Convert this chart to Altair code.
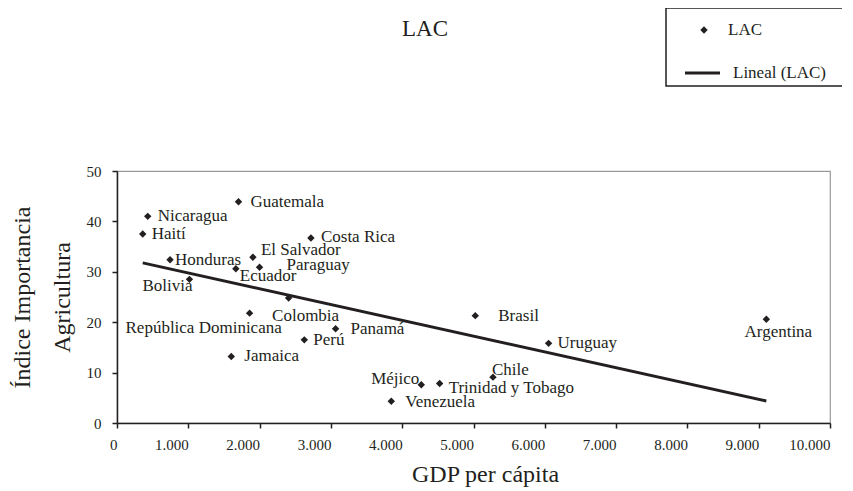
import altair as alt
import pandas as pd

# ---------------- data ----------------
countries = ["Guatemala", "Nicaragua", "Haití", "Costa Rica", "El Salvador",
             "Honduras", "Ecuador", "Paraguay", "Bolivia", "Colombia",
             "República Dominicana", "Panamá", "Perú", "Jamaica", "Méjico",
             "Trinidad y Tobago", "Chile", "Venezuela", "Brasil", "Uruguay",
             "Argentina"]
gdp = [1704, 431, 361, 2720, 1906, 744, 1667, 1999, 1016, 2407,
       1860, 3066, 2627, 1603, 4268, 4525, 5273, 3847, 5025, 6053, 9107]
indice = [43.9, 41.0, 37.5, 36.7, 32.9, 32.4, 30.6, 30.9, 28.5, 24.8,
          21.8, 18.7, 16.5, 13.2, 7.6, 7.85, 9.1, 4.3, 21.3, 15.8, 20.6]

x_ticks = list(range(0, 10001, 1000))
y_ticks = list(range(0, 51, 5))

chart_title = "LAC"
legend_point = "LAC"
legend_line = "Lineal (LAC)"
x_title = "GDP per cápita"
y_title = ["Índice Importancia", "Agricultura"]

# label placement (style): align, dx, dy
label_style = {
    "Guatemala": ("left", 12, 0),
    "Nicaragua": ("left", 10, 0),
    "Haití": ("left", 9, 0),
    "Costa Rica": ("left", 10, -1),
    "El Salvador": ("left", 8, -7),
    "Honduras": ("left", 5, 0),
    "Ecuador": ("left", 4, 7),
    "Paraguay": ("left", 27, -2),
    "Bolivia": ("right", 3, 7),
    "Colombia": ("center", 17, 18),
    "República Dominicana": ("center", -46, 15),
    "Panamá": ("left", 15, 0),
    "Perú": ("left", 9, 0),
    "Jamaica": ("left", 13, 0),
    "Méjico": ("right", -2, -6),
    "Trinidad y Tobago": ("left", 9, 5),
    "Chile": ("left", -1, -7),
    "Venezuela": ("left", 14, 1),
    "Brasil": ("left", 23, 0),
    "Uruguay": ("left", 9, 0),
    "Argentina": ("center", 12, 13),
}

df = pd.DataFrame({"pais": countries, "gdp": gdp, "indice": indice})

FONT = "Liberation Serif"
INK = "#231f20"
W, H = 713, 252

xs = alt.Scale(domain=[0, 10000], nice=False, zero=False)
ys = alt.Scale(domain=[0, 50], nice=False)

base = alt.Chart(df)

points = base.mark_point(shape="diamond", filled=True, size=55,
                         color=INK, opacity=1).encode(
    x=alt.X("gdp:Q", scale=xs,
            axis=alt.Axis(values=x_ticks,
                          labelExpr="replace(format(datum.value, ','), ',', '.')",
                          title=x_title, labelAlign="right", labelBaseline="top",
                          labelPadding=9,
                          titleX=368, titleY=58, titleBaseline="alphabetic",
                          titleAlign="center")),
    y=alt.Y("indice:Q", scale=ys,
            axis=alt.Axis(values=y_ticks, title=y_title, labelPadding=11,
                          titleAngle=270, titleX=-88, titleY=126,
                          titleAlign="center", titleBaseline="alphabetic",
                          titleLineHeight=40)),
)

trend = base.transform_regression("gdp", "indice").mark_line(
    color=INK, strokeWidth=3).encode(
    x=alt.X("gdp:Q", scale=xs), y=alt.Y("indice:Q", scale=ys))

label_layers = []
for name in countries:
    align, dx, dy = label_style[name]
    label_layers.append(
        base.transform_filter(alt.datum.pais == name).mark_text(
            align=align, dx=dx, dy=dy, baseline="middle", font=FONT,
            fontSize=17, color=INK).encode(
            x=alt.X("gdp:Q", scale=xs), y=alt.Y("indice:Q", scale=ys),
            text="pais:N"))

one = pd.DataFrame({"k": [0]})

title_mark = alt.Chart(pd.DataFrame({"t": [chart_title]})).mark_text(
    font=FONT, fontSize=23, color=INK, align="center", baseline="middle").encode(
    x=alt.value(308), y=alt.value(-142), text="t:N")

legend_box = alt.Chart(one).mark_rect(fill="white", stroke=INK, strokeWidth=1.5).encode(
    x=alt.value(549), x2=alt.value(780), y=alt.value(-163), y2=alt.value(-85))

legend_pt = alt.Chart(one).mark_point(shape="diamond", filled=True, size=55,
                                      color=INK, opacity=1).encode(
    x=alt.value(587), y=alt.value(-141))

legend_ln = alt.Chart(one).mark_rule(color=INK, strokeWidth=3).encode(
    x=alt.value(568), x2=alt.value(603), y=alt.value(-98))

legend_t1 = alt.Chart(pd.DataFrame({"t": [legend_point]})).mark_text(
    font=FONT, fontSize=17, color=INK, align="left", baseline="middle").encode(
    x=alt.value(611), y=alt.value(-141), text="t:N")

legend_t2 = alt.Chart(pd.DataFrame({"t": [legend_line]})).mark_text(
    font=FONT, fontSize=17, color=INK, align="left", baseline="middle").encode(
    x=alt.value(616), y=alt.value(-98), text="t:N")

chart = alt.layer(
    points, trend, *label_layers,
    title_mark, legend_box, legend_pt, legend_ln, legend_t1, legend_t2
).properties(
    width=W, height=H,
    autosize=alt.AutoSizeParams(type="none"),
    padding={"left": 109, "top": 163, "right": 12, "bottom": 66},
).configure_view(
    stroke="#9a9a9a", strokeWidth=1.2
).configure_axis(
    grid=False, domainColor=INK, domainWidth=1.5, tickColor=INK, tickWidth=1.5,
    tickSize=5, labelFont=FONT, labelFontSize=15, labelColor=INK,
    titleFont=FONT, titleFontSize=24, titleFontWeight="normal", titleColor=INK,
)

chart.save("out.html", embed_options={"renderer": "svg", "actions": False})
